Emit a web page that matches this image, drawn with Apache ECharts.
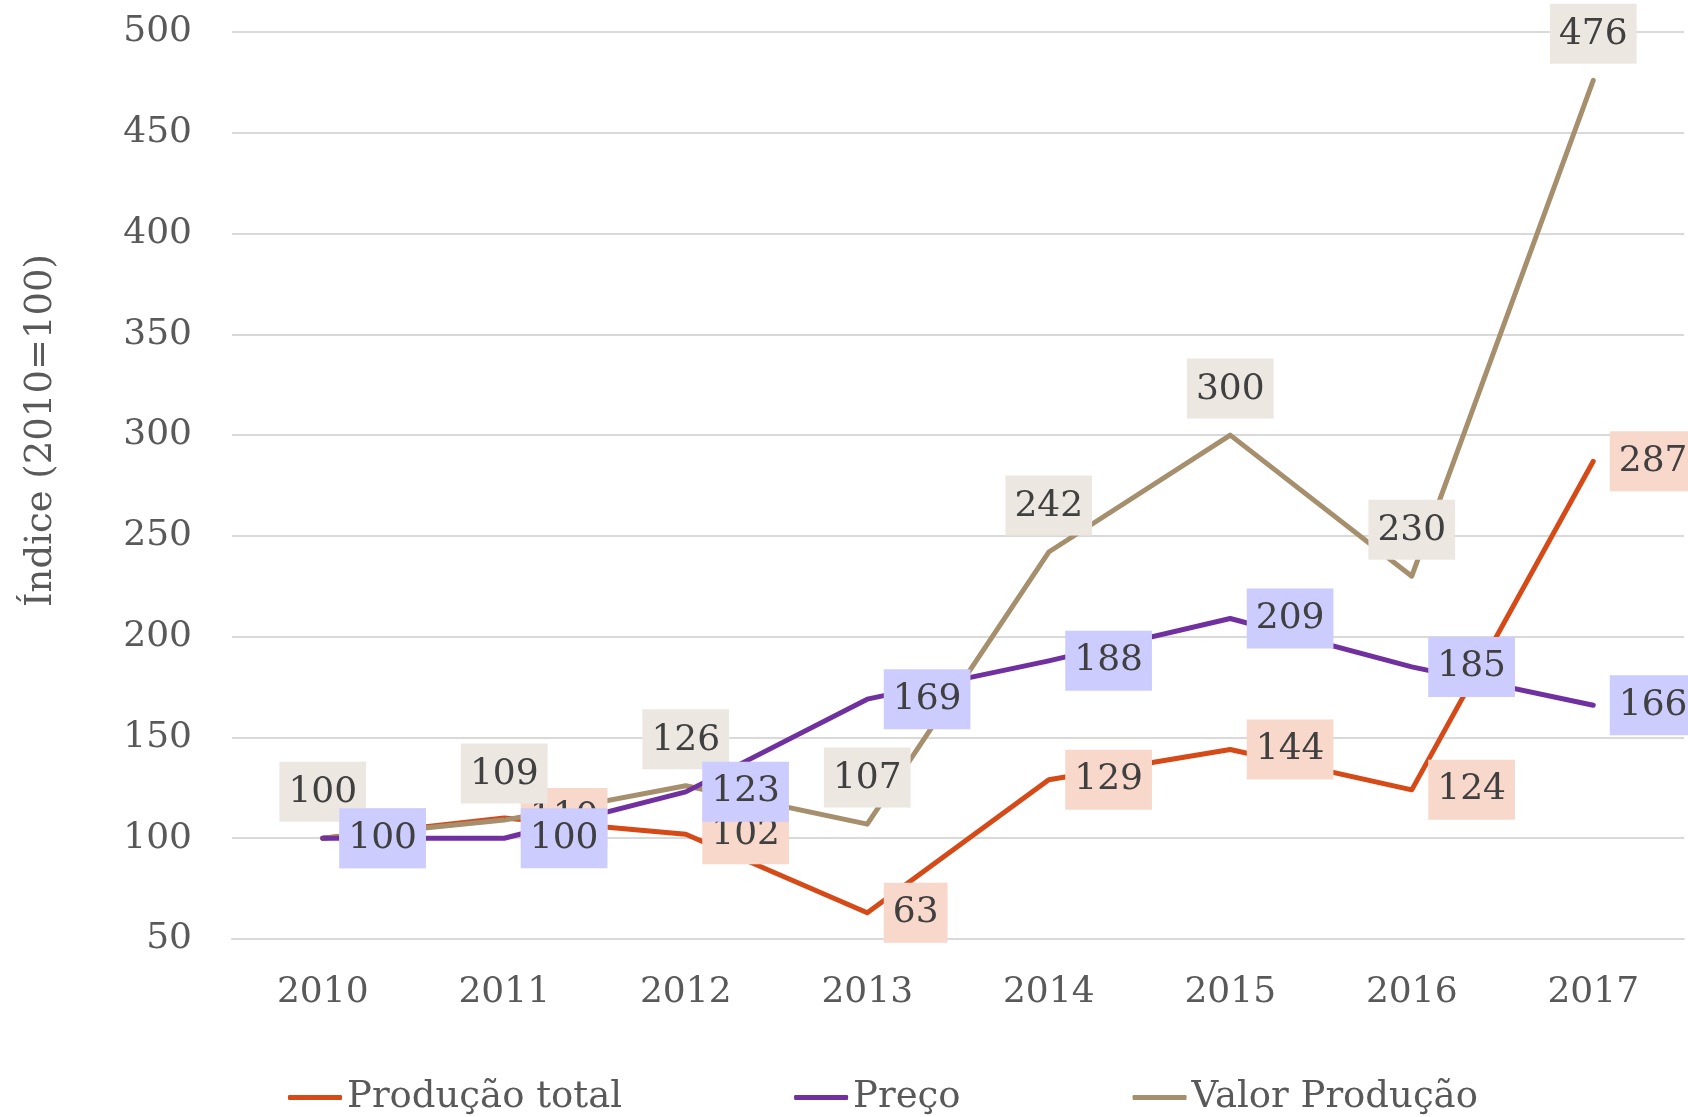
<!DOCTYPE html>
<html>
<head>
<meta charset="utf-8">
<script src="https://cdn.jsdelivr.net/npm/echarts@6/dist/echarts.min.js"></script>
<style>
  html, body { margin: 0; padding: 0; background: #fff; }
  #chart { width: 1688px; height: 1117px; }
</style>
</head>
<body>
<div id="chart"></div>
<script>
var anos = ['2010', '2011', '2012', '2013', '2014', '2015', '2016', '2017'];
var producaoTotal = [100, 110, 102, 63, 129, 144, 124, 287];
var preco = [100, 100, 123, 169, 188, 209, 185, 166];
var valorProducao = [100, 109, 126, 107, 242, 300, 230, 476];

var fonte = '"DejaVu Serif", "Liberation Serif", serif';

function rotulo(pos, bg) {
  return {
    show: true,
    position: pos,
    distance: 16,
    color: '#404040',
    fontFamily: fonte,
    fontSize: 36,
    backgroundColor: bg,
    padding: [13, 9, 11, 9]
  };
}

function serie(nome, dados, cor, pos, bg) {
  return {
    name: nome,
    type: 'line',
    data: dados,
    symbol: 'circle',
    symbolSize: 1,
    showSymbol: true,
    itemStyle: { color: cor },
    lineStyle: { color: cor, width: 5, cap: 'round', join: 'round' },
    label: rotulo(pos, bg),
    emphasis: { disabled: true },
    animation: false
  };
}

var chart = echarts.init(document.getElementById('chart'));

var option = {
  backgroundColor: '#ffffff',
  grid: { left: 232, right: 4, top: 32, bottom: 178 },
  legend: {
    data: ['Produção total', 'Preço', 'Valor Produção'],
    left: 283,
    top: 1074,
    itemWidth: 54,
    itemHeight: 5,
    itemGap: 172,
    icon: 'roundRect',
    textStyle: { color: '#595959', fontFamily: fonte, fontSize: 37 }
  },
  xAxis: {
    type: 'category',
    data: anos,
    boundaryGap: true,
    axisTick: { show: false },
    axisLine: { show: true, lineStyle: { color: '#d9d9d9', width: 2 } },
    axisLabel: { color: '#595959', fontFamily: fonte, fontSize: 36, margin: 36 }
  },
  yAxis: {
    type: 'value',
    min: 50,
    max: 500,
    interval: 50,
    name: 'Índice (2010=100)',
    nameLocation: 'middle',
    nameGap: 172,
    nameTextStyle: { color: '#595959', fontFamily: fonte, fontSize: 37, padding: [0, 0, 0, 110] },
    axisLine: { show: false },
    axisTick: { show: false },
    axisLabel: { color: '#595959', fontFamily: fonte, fontSize: 36, margin: 40 },
    splitLine: { lineStyle: { color: '#d9d9d9', width: 2 } }
  },
  series: [
    serie('Produção total', producaoTotal, '#d64a17', 'right', '#f8d8cb'),
    serie('Valor Produção', valorProducao, '#a68f6c', 'top', '#ece7e1'),
    serie('Preço', preco, '#7030a0', 'right', '#ccccff')
  ]
};

chart.setOption(option);
</script>
</body>
</html>
